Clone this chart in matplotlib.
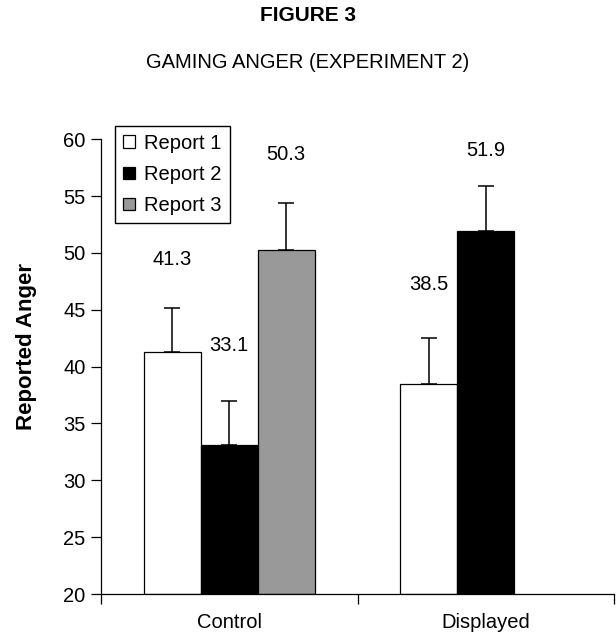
import numpy as np
import matplotlib
matplotlib.use("Agg")
import matplotlib.pyplot as plt
from matplotlib.patches import Patch

plt.rcParams['font.family'] = ['Liberation Sans', 'DejaVu Sans']

# data
groups = ["Control", "Displayed"]
reports = ["Report 1", "Report 2", "Report 3"]
means = {
    "Report 1": [41.3, 38.5],
    "Report 2": [33.1, 51.9],
    "Report 3": [50.3, None],
}
errors = {
    "Report 1": [3.9, 4.0],
    "Report 2": [3.9, 4.0],
    "Report 3": [4.1, None],
}
colors = {"Report 1": "white", "Report 2": "black", "Report 3": "#999999"}
# where the value labels sit (y, in data units)
label_y = {
    "Report 1": [49.4, 47.2],
    "Report 2": [41.9, 59.0],
    "Report 3": [58.7, None],
}

FS = 14.5

fig = plt.figure(figsize=(6.16, 6.36), dpi=100)
ax = fig.add_axes([0.164, 0.066, 0.833, 0.715])

width = 0.222
x = np.arange(len(groups))
for i, rep in enumerate(reports):
    off = (i - 1) * width
    for g in range(len(groups)):
        v = means[rep][g]
        if v is None:
            continue
        xpos = x[g] + off
        ax.bar(xpos, v - 20, bottom=20, width=width, color=colors[rep],
               edgecolor="black", linewidth=0.9, zorder=2)
        ax.errorbar(xpos, v, yerr=[[0], [errors[rep][g]]], fmt="none",
                    ecolor="black", elinewidth=1.1, capsize=6, capthick=1.1, zorder=3)
        ax.text(xpos, label_y[rep][g], f"{v:.1f}", ha="center", va="center", fontsize=FS)

ax.set_ylim(20, 60)
ax.set_xlim(-0.5, 1.5)
ax.set_yticks(np.arange(20, 61, 5))
ax.set_xticks([-0.5, 0.5, 1.5])
ax.set_xticklabels([])
ax.set_xticks(x, minor=True)
ax.set_xticklabels(groups, minor=True, fontsize=FS)
ax.tick_params(axis="x", which="minor", length=0, pad=14)
ax.tick_params(axis="x", which="major", length=7, width=0.9, direction="out")
ax.tick_params(axis="y", length=7, width=0.9, labelsize=FS, pad=4)
for s in ["top", "right"]:
    ax.spines[s].set_visible(False)
for s in ["left", "bottom"]:
    ax.spines[s].set_linewidth(0.9)
ax.set_ylabel("Reported Anger", fontsize=16, fontweight="bold")
ax.yaxis.set_label_coords(-0.125, 0.545)

handles = [Patch(facecolor=colors[r], edgecolor="black", linewidth=0.9) for r in reports]
fig.legend(handles, reports, loc="upper left", bbox_to_anchor=(0.187, 0.802),
           bbox_transform=fig.transFigure, fontsize=FS, frameon=True, fancybox=False,
           edgecolor="black", framealpha=1, borderaxespad=0, borderpad=0.4,
           handlelength=0.6, handleheight=0.6, handletextpad=0.45, labelspacing=0.6)

fig.text(0.5, 0.976, "FIGURE 3", ha="center", va="center", fontsize=15, fontweight="bold")
fig.text(0.5, 0.902, "GAMING ANGER (EXPERIMENT 2)", ha="center", va="center", fontsize=FS)

fig.savefig("out.png", dpi=100)
